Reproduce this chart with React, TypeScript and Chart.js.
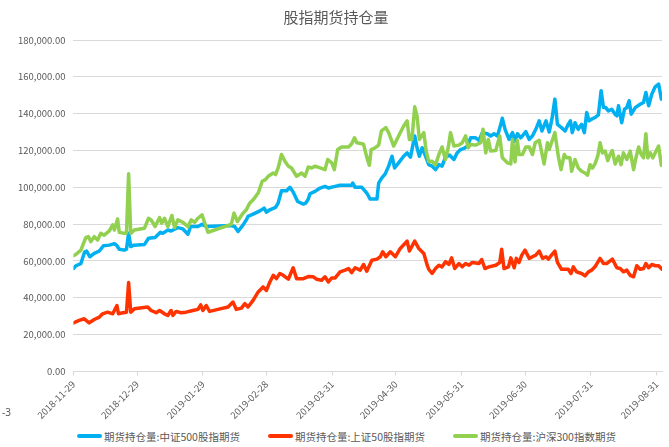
import React, { useEffect, useRef } from "react";
import { Chart, registerables } from "chart.js";

Chart.register(...registerables);

const chartTitle = "股指期货持仓量";
const seriesNames = ["期货持仓量:中证500股指期货", "期货持仓量:上证50股指期货", "期货持仓量:沪深300指数期货"];
const seriesColors = ["#00b0f0", "#ff3300", "#92d050"];
const startDate = "2018-11-29";
const xTickLabels = ["2018-11-29", "2018-12-29", "2019-01-29", "2019-02-28", "2019-03-31", "2019-04-30", "2019-05-31", "2019-06-30", "2019-07-31", "2019-08-31"];
const xMaxDay = 277.5;

// days since 2018-11-29, values in thousands of contracts
const ic500Days = [0,1.1,3.5,5.3,6.2,7.7,9.8,12.2,14.2,16.9,19.3,20.5,21.6,24,25,26,27,28.5,33.5,35.4,38.5,41,42.1,44.5,46,49.2,51.6,54,55.2,58.7,60.6,62.6,74.4,76,77.6,80,81.5,82.3,84.7,87.9,89.9,91,92.6,95.3,96.5,98.1,100.5,102.1,103.6,105.7,108.4,109.5,110.7,111.5,113.9,116.3,118.6,120.2,123.4,125.7,131.2,131.7,132.8,136,138.3,139.9,143.1,143.9,145.4,147,148.6,150.2,151.4,153.3,155.7,157.3,158.9,160.9,162,163.1,164.4,166,167.5,169.1,170.7,172.3,173.8,175.4,177.3,179.4,180.9,182.5,184.1,185.7,187.3,189.6,191.2,192.8,195.1,196.7,198.3,199.9,201.5,202.2,203.5,205.4,207,208.2,209.3,210.9,213.3,214.9,216.4,218,219.6,220.9,222.8,224.3,225.6,227,228.2,230.1,231.8,233.3,234.3,235.2,236.5,238,239.6,240.9,242,243.1,244.3,245.9,247.5,248.8,249.9,251,252.2,253.8,255.4,256.2,257,258.5,259.8,260.9,262,263,264.9,267.2,268.8,269.9,271.2,272.7,274.3,275.9,277.2];
const ic500Values = [55.9,57.4,58.6,65,65.4,62.3,64.1,65.4,68.3,68.6,69.4,68.3,66.4,65.9,66.4,75,67.8,68.6,69,72.3,72.7,75.6,75,76.8,76.3,78.1,77.4,74.5,78.7,78.7,79.9,78.7,79.2,78.7,76,79.6,82.3,84.2,85.4,87.2,88.7,86.5,87.8,89.1,91.4,98.1,98.1,100,97.4,92.3,90.9,91.4,93.5,96.5,97.8,99.6,100.5,99.6,100.5,101.1,101.1,102.3,100,100,96.9,93.6,93.6,102.3,105.1,107.3,111.5,116.9,110.5,113.3,116.9,118.7,116.4,127.9,121.5,116.9,121.5,116.9,112.3,111.5,109.6,112.3,111.5,116.4,117.5,115.1,118.7,120.5,121.1,122.4,126.9,126.9,125.5,129.7,129.1,127.9,129.1,127.9,134.2,137.5,131.5,126,129.7,125.1,129.1,126.9,130.2,126,127.9,131.5,136.1,130.6,136.1,130,137,147.9,134.2,132.4,130.6,134.2,136.1,129.7,135.1,131.5,134.2,129.7,140.6,136.1,137,137.9,139.3,152.5,143.3,143.3,141.5,142.4,139.7,138.8,144.3,135.1,142.4,143.3,147,139.7,143.3,145.1,146.1,151.5,144.3,150.6,154.6,156.1,147.9];

const ih50Days = [0,2.7,5.1,7.4,9.8,12.2,13.7,16.1,18.5,20.5,21.2,23.2,25,26,27,28.7,35,36.6,39,40.6,42.9,44.5,46,46.9,48.4,50.7,53.1,56.3,58.7,60,61,62.6,64.2,68.1,72.9,75.2,76.8,79.2,80.8,82.3,84.7,87.1,89.4,91,92.6,94.2,95.7,97.3,98.9,101.3,103.6,105.2,108.4,110.7,113.1,114.6,117,118.6,120.2,121.8,123.4,125.7,128.1,129.7,131.2,132.8,135.2,136.8,138.3,140.7,143.1,144.7,145.8,147.3,149.4,151.8,154.1,157.3,158.4,160.9,162.8,165.2,166.8,167.5,169.1,170.7,172.3,173.8,175.4,177,178.3,179.8,181.7,183.3,184.9,186.5,188.1,191.2,192.5,194,195.9,199.1,201,201.9,203,205.1,206.2,207.8,208.8,210.1,211.4,212.9,214.9,216.4,218,219.6,221.2,222.8,223.9,225.4,227,228.2,230.1,233.3,234.6,235.7,237.2,239.6,241.2,242.8,244.3,245.9,248.3,249.9,251.4,254.1,256.2,257.8,259.3,260.9,262.5,264.1,265.6,267.2,268.8,269.9,271.2,272.7,274.3,275.9,277.5];
const ih50Values = [26.4,27.7,28.6,26.4,28.2,29.5,31.3,32.2,31.3,35.8,31.3,31.9,32.2,48.3,32.2,34,35,33.1,31.9,33.1,31.3,30.4,33.1,30.4,32.6,31.9,32.2,33.1,33.7,36.2,33.1,35.8,32.6,33.7,35,37.7,33.7,34.4,36.8,35,38.6,43.2,45.9,44,48.6,52.2,50.4,53.2,52.2,50.1,56.3,50.4,50.4,51.5,51.4,50.1,49.5,51.4,48.6,50.8,50.8,54.1,55,55.9,53.7,56.3,55,58.1,54.4,60.4,61,62.3,65,62.3,65,62.3,66.8,70.8,65.4,70.8,66.8,64.1,57.7,55.5,53.2,55.9,57.7,56.8,59.6,58.1,61.7,55.9,58.6,56.8,58.6,57.7,59.2,58.6,60.8,55.9,56.8,57.7,59.2,66.4,55.9,56.8,61.7,56.3,61.4,59.2,63.2,65.9,61.4,62.3,63.2,65.4,61.4,62.3,61,63.2,65.4,59.2,55.5,55.5,53.2,56.8,54.1,53.2,51.9,54.1,55,56.8,61.4,58.6,58.6,61,56.3,55.9,54.1,55,52.2,51.4,57.4,55.5,55.9,58.6,56.3,58.1,57.4,57.4,55.5];

const if300Days = [0,1.1,3.5,5.8,7,8.2,9.8,11.4,12.9,14.5,16.9,18.5,19.3,20.8,21.6,24,25,26,27,28.7,33.5,35.4,36.6,38.5,40.6,41.6,42.9,44.5,46.4,47.7,49.2,51.6,54,55.5,57.1,58.7,60.6,61.8,63.4,74.4,75.7,77.3,80,81.5,83.1,84.7,87.1,89,90.5,91.8,94.2,95.3,96.5,98.1,99.7,101.3,102.8,105.2,107.6,109.2,110.7,112.3,113.9,116.3,118.6,119.9,121.8,123,124.6,126.5,129.7,131.2,132.5,133.6,136,136.8,138.3,139.5,140.4,142.3,143.9,145.2,147.3,148.6,151,153.3,155.7,157.3,158.4,159.6,160.9,162,163.1,165.2,166.3,167.5,169.1,170.7,172.3,173.8,175.4,176.7,177.8,179.4,181.7,183.3,184.9,186.1,187.3,189.6,192,193.1,194.4,195.6,196.7,199.1,201,202.2,204.6,206.2,207,208.2,209.3,210.1,211.7,213.3,214.9,216.4,217.7,219.6,221.9,223.5,224.3,225.4,227,228.6,229.9,231.4,232.5,234.1,234.9,236.5,238,239.6,241.2,242.4,243.6,244.7,245.9,247.2,248.3,249.4,250.7,251.9,253,254.1,255.4,257,258.2,259.3,260.9,262.5,264.1,265.2,266.5,267.7,268.8,269.9,270.8,272,273.1,274.3,275.9,277.2];
const if300Values = [62.8,63.5,65.9,72.7,73.2,70.5,73.2,71.4,75,74,76.3,79.6,76.8,82.8,75.6,75,75.2,107.3,75,76.8,77.8,83.2,82.3,78.7,83.6,80.5,83.2,78.7,84.7,78.1,82.3,81,78.7,82.3,81,83.2,85,81,75.6,79.9,86,81.4,86,87.8,91.4,93.2,96.9,103.3,104.2,106,107.8,106.9,110.5,117.8,114.2,111.5,110.5,106,107.8,106,111,110.5,111.5,110.5,109.6,115.1,113.3,109.6,120.5,121.9,121.9,123.7,126.9,124.2,123.7,123.3,116.4,112,120.5,121.5,122.9,130.6,132.4,129.7,122.4,127.9,133.3,136.1,126,126,143.7,138.8,126,129.7,119.7,114,114.2,112.3,117.8,121.9,115.1,121.5,129.7,122.4,122.9,124.2,127.9,121.5,123.3,122.9,124.2,131.5,118.7,126,119.7,120,127.9,116,113.3,112.7,126,113.8,125.5,117.8,117.8,121.9,121.9,117.8,124.2,125.5,112.7,124.2,120.5,124.2,129.7,116.9,109.6,117.8,116,116,108.7,115.1,110.5,108.7,107.8,106.6,112.3,110.5,112.7,116.9,124.2,118.7,119.7,114.5,117.8,120,112.7,116.9,112.3,118.7,115.1,119.7,109.6,116,121.9,117.8,116,129.1,116,118.7,116,118.7,122.4,112];

const DAY_MS = 86400000;
const dayOf = (s: string) => (Date.parse(s + "T00:00:00Z") - Date.parse(startDate + "T00:00:00Z")) / DAY_MS;
const toPoints = (days: number[], vals: number[]) => days.map((d, i) => ({ x: d, y: vals[i] * 1000 }));

const grey = "#595959";
const fontFamily = "'Noto Sans CJK SC', 'Noto Sans', sans-serif";

export default function App() {
  const ref = useRef<HTMLCanvasElement | null>(null);
  useEffect(() => {
    if (!ref.current) return;
    const mk = (i: number, days: number[], vals: number[], order: number) => ({
      label: seriesNames[i],
      data: toPoints(days, vals),
      borderColor: seriesColors[i],
      backgroundColor: seriesColors[i],
      borderWidth: 3.5,
      pointRadius: 0,
      pointHoverRadius: 0,
      tension: 0,
      borderJoinStyle: "round" as const,
      borderCapStyle: "round" as const,
      order,
    });
    const chart = new Chart(ref.current, {
      type: "line",
      data: {
        datasets: [
          mk(0, ic500Days, ic500Values, 3),
          mk(1, ih50Days, ih50Values, 2),
          mk(2, if300Days, if300Values, 1),
        ],
      },
      options: {
        animation: false,
        responsive: true,
        maintainAspectRatio: false,
        layout: { padding: { left: 10, right: 7, top: 0, bottom: 2 } },
        plugins: {
          title: {
            display: true,
            text: chartTitle,
            color: grey,
            font: { family: fontFamily, size: 15, weight: "normal" },
            padding: { top: 8, bottom: 14 },
          },
          legend: { display: false },
          tooltip: { enabled: false },
        },
        scales: {
          x: {
            type: "linear",
            min: 0,
            max: xMaxDay,
            afterBuildTicks: (axis: any) => {
              axis.ticks = xTickLabels.map((s) => ({ value: dayOf(s) }));
            },
            ticks: {
              autoSkip: false,
              minRotation: 45,
              maxRotation: 45,
              color: grey,
              font: { family: fontFamily, size: 9.5 },
              callback: (_v: any, i: number) => xTickLabels[i],
            },
            grid: { drawOnChartArea: false, drawTicks: true, tickLength: 4, color: "#d9d9d9" },
            border: { display: true, color: "#d9d9d9" },
          },
          y: {
            min: 0,
            max: 180000,
            ticks: {
              stepSize: 20000,
              color: grey,
              font: { family: fontFamily, size: 9.5 },
              padding: 8,
              callback: (v: any) => Number(v).toLocaleString("en-US", { minimumFractionDigits: 2, maximumFractionDigits: 2 }),
            },
            grid: { color: "#d9d9d9", drawTicks: false },
            border: { display: false },
          },
        },
      },
    });
    return () => chart.destroy();
  }, []);
  return (
    <div style={{ position: "absolute", left: 0, top: 0, width: 669, height: 447, background: "#fff" }}>
      <div style={{ position: "relative", width: 669, height: 426 }}>
        <canvas ref={ref} />
      </div>
      <span style={{ position: "absolute", left: 2, top: 405, fontSize: 10, color: grey, fontFamily: "'Noto Sans', sans-serif" }}>-3</span>
      <div style={{ position: "absolute", left: 77, top: 428, height: 16, display: "flex", alignItems: "center", whiteSpace: "nowrap", fontSize: 10.5, color: grey, fontFamily }}>
        {seriesNames.map((name, i) => (
          <div key={name} style={{ display: "flex", alignItems: "center", marginRight: 28 }}>
            <span style={{ display: "inline-block", width: 25, height: 4, borderRadius: 2, background: seriesColors[i], marginRight: 2 }} />
            <span>{name}</span>
          </div>
        ))}
      </div>
    </div>
  );
}
